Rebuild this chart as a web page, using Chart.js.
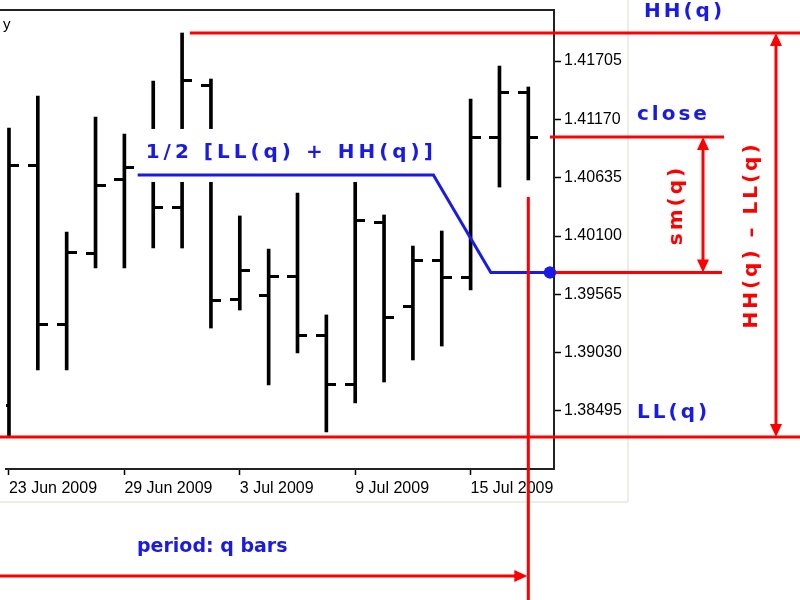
<!DOCTYPE html>
<html>
<head>
<meta charset="utf-8">
<script src="https://cdn.jsdelivr.net/npm/chart.js@4.4.0/dist/chart.umd.min.js"></script>
<style>
  html, body { margin: 0; padding: 0; background: #fff; }
  #wrap { width: 800px; height: 600px; position: relative; }
</style>
</head>
<body>
<div id="wrap"><canvas id="barChart" width="800" height="600"></canvas></div>
<script>
// daily bars, 23 Jun - 17 Jul 2009
const dates = ['23 Jun 2009', '24 Jun 2009', '25 Jun 2009', '26 Jun 2009', '29 Jun 2009', '30 Jun 2009',
    '1 Jul 2009', '2 Jul 2009', '3 Jul 2009', '6 Jul 2009', '7 Jul 2009', '8 Jul 2009', '9 Jul 2009',
    '10 Jul 2009', '13 Jul 2009', '14 Jul 2009', '15 Jul 2009', '16 Jul 2009', '17 Jul 2009'];
const opens = [1.38550, 1.40751, 1.39284, 1.39944, 1.40614, 1.40700, 1.40357, 1.41476, 1.39522, 1.39550,
    1.39733, 1.39183, 1.38734, 1.40228, 1.39458, 1.39871, 1.39715, 1.41008, 1.41412];
const highs = [1.41091, 1.41384, 1.40137, 1.41191, 1.41036, 1.41522, 1.41962, 1.41540, 1.40284, 1.39981,
    1.40494, 1.39376, 1.40720, 1.40293, 1.40008, 1.40146, 1.41357, 1.41659, 1.41467];
const lows = [1.38257, 1.38871, 1.38871, 1.39807, 1.39807, 1.39990, 1.39990, 1.39256, 1.39421, 1.38734,
    1.39027, 1.38303, 1.38569, 1.38761, 1.38963, 1.39091, 1.39605, 1.40549, 1.40614];
const closes = [1.40751, 1.39284, 1.39953, 1.40559, 1.40724, 1.40357, 1.41522, 1.39504, 1.39788, 1.39733,
    1.39183, 1.38734, 1.40238, 1.39348, 1.39871, 1.39724, 1.41008, 1.41412, 1.41008];

const dateTicks = [0, 4, 8, 12, 16];
const priceTicks = [1.38495, 1.39030, 1.39565, 1.40100, 1.40635, 1.41170, 1.41705];

// midline 1/2 [LL + HH] (bar index, price)
const midX = [4.46, 14.71, 16.70, 18.75];
const midY = [1.40660, 1.40660, 1.39765, 1.39765];

const hhLevel = Math.max(...highs);
const llLevel = Math.min(...lows);
const closeLevel = closes[closes.length - 1];
const hhStart = 6.27;
const lastBar = closes.length - 1;

const RED = '#ff0000';
const BLUE = '#1a1ae6';

// little horizontal tick used for open (left) and close (right)
function tickImage(side) {
    const c = document.createElement('canvas');
    c.width = 20; c.height = 3;
    const g = c.getContext('2d');
    g.fillStyle = '#000';
    g.fillRect(side === 'left' ? 0 : 10, 0, 10, 3);
    return c;
}

function arrowHead(ctx, x, y, dx, dy) {
    const len = 13, half = 6;
    ctx.beginPath();
    ctx.moveTo(x, y);
    ctx.lineTo(x - dx * len - dy * half, y - dy * len + dx * half);
    ctx.lineTo(x - dx * len + dy * half, y - dy * len - dx * half);
    ctx.closePath();
    ctx.fill();
}

function hLine(ctx, x0, x1, y) {
    ctx.beginPath(); ctx.moveTo(x0, y); ctx.lineTo(x1, y); ctx.stroke();
}
function vLine(ctx, x, y0, y1) {
    ctx.beginPath(); ctx.moveTo(x, y0); ctx.lineTo(x, y1); ctx.stroke();
}

const annotations = {
    id: 'annotations',
    beforeDatasetDraw(chart, args) {
        if (args.meta.type !== 'line') return;
        // white box behind the formula label
        const { x, y } = chart.scales;
        const ctx = chart.ctx;
        const x0 = x.getPixelForValue(midX[0]);
        const x1 = x.getPixelForValue(midX[1]);
        const yl = y.getPixelForValue(midY[0]);
        ctx.save();
        ctx.fillStyle = '#fff';
        ctx.fillRect(x0, yl - 46, x1 - x0, 53);
        ctx.restore();
    },
    afterDraw(chart) {
        const { x, y } = chart.scales;
        const area = chart.chartArea;
        const ctx = chart.ctx;
        ctx.save();

        // top frame of the price window
        ctx.strokeStyle = '#222';
        ctx.lineWidth = 2;
        hLine(ctx, 0, area.right + 1, area.top);

        // outer panel edge
        ctx.strokeStyle = '#e8e8de';
        ctx.lineWidth = 1.5;
        vLine(ctx, 628, 0, 502);
        hLine(ctx, 0, 628, 502);

        ctx.fillStyle = '#000';
        ctx.font = '15px "Liberation Sans"';
        ctx.textBaseline = 'alphabetic';
        ctx.fillText('y', 3, 29);

        // red levels
        const yHH = y.getPixelForValue(hhLevel);
        const yLL = y.getPixelForValue(llLevel);
        const yClose = y.getPixelForValue(closeLevel);
        const yMid = y.getPixelForValue(midY[3]);
        const xLast = x.getPixelForValue(lastBar);
        const xDot = x.getPixelForValue(midX[3]);

        ctx.strokeStyle = RED;
        ctx.fillStyle = RED;
        ctx.lineWidth = 3;
        hLine(ctx, x.getPixelForValue(hhStart), 800, yHH);
        hLine(ctx, 0, 800, yLL);
        hLine(ctx, 550, 724, yClose);
        hLine(ctx, xDot + 5, 722, yMid);
        vLine(ctx, xLast, 197, 600);

        // period arrow
        hLine(ctx, 0, xLast - 10, 576);
        arrowHead(ctx, xLast - 1, 576, 1, 0);

        // sm(q) arrow
        vLine(ctx, 703, yClose + 10, yMid - 10);
        arrowHead(ctx, 703, yClose, 0, -1);
        arrowHead(ctx, 703, yMid, 0, 1);

        // HH - LL arrow
        vLine(ctx, 776, yHH + 10, yLL - 10);
        arrowHead(ctx, 776, yHH, 0, -1);
        arrowHead(ctx, 776, yLL, 0, 1);

        // labels
        ctx.font = 'bold 20px "DejaVu Sans"';
        ctx.letterSpacing = '3px';
        ctx.textBaseline = 'middle';
        ctx.textAlign = 'left';
        ctx.fillStyle = BLUE;
        ctx.fillText('HH(q)', 644, 12);
        ctx.fillText('close', 637, 115);
        ctx.fillText('LL(q)', 637, 413);
        ctx.letterSpacing = '4px';
        ctx.fillText('1/2 [LL(q) + HH(q)]', x.getPixelForValue(midX[0]) + 8, y.getPixelForValue(midY[0]) - 22);
        ctx.letterSpacing = '3px';

        ctx.fillStyle = RED;
        ctx.textAlign = 'center';
        [['sm(q)', 677, 205], ['HH(q) – LL(q)', 752, 235]].forEach(([t, cx, cy]) => {
            ctx.save();
            ctx.translate(cx, cy);
            ctx.rotate(-Math.PI / 2);
            ctx.fillText(t, 0, 0);
            ctx.restore();
        });

        ctx.letterSpacing = '0px';
        ctx.textAlign = 'left';
        ctx.fillStyle = BLUE;
        ctx.font = 'bold 19px "DejaVu Sans"';
        ctx.fillText('period: q bars', 137, 547);

        // end point of the midline sits on top of the red level
        ctx.beginPath();
        ctx.arc(xDot, yMid, 6, 0, Math.PI * 2);
        ctx.fill();

        ctx.restore();
    }
};

const tickFont = { family: 'Liberation Sans', size: 16 };

new Chart(document.getElementById('barChart'), {
    type: 'bar',
    data: {
        datasets: [
            {
                type: 'line',
                data: midX.map((v, i) => ({ x: v, y: midY[i] })),
                borderColor: BLUE,
                borderWidth: 3,
                pointRadius: [0, 0, 0, 6],
                pointBackgroundColor: BLUE,
                pointBorderWidth: 0,
                tension: 0,
                clip: false,
                order: 0
            },
            {
                type: 'bar',
                data: highs.map((h, i) => ({ x: i, y: [lows[i], h] })),
                backgroundColor: '#000',
                barThickness: 3,
                order: 1
            },
            {
                type: 'scatter',
                data: opens.map((v, i) => ({ x: i, y: v })),
                pointStyle: tickImage('left'),
                pointRadius: 5,
                order: 1
            },
            {
                type: 'scatter',
                data: closes.map((v, i) => ({ x: i, y: v })),
                pointStyle: tickImage('right'),
                pointRadius: 5,
                order: 1
            }
        ]
    },
    options: {
        responsive: false,
        animation: false,
        events: [],
        layout: { padding: { top: 10, left: 0, right: 0, bottom: 0 } },
        plugins: { legend: { display: false }, tooltip: { enabled: false } },
        scales: {
            x: {
                type: 'linear',
                position: 'bottom',
                offset: false,
                min: -0.103,
                max: 18.89,
                afterBuildTicks: s => { s.ticks = dateTicks.map(v => ({ value: v })); },
                afterFit: s => { s.height = 131; s.paddingLeft = 0; s.paddingRight = 0; },
                ticks: {
                    callback: v => dates[v],
                    align: 'start',
                    autoSkip: false,
                    maxRotation: 0,
                    padding: 4,
                    color: '#000',
                    font: tickFont
                },
                grid: { offset: false, drawOnChartArea: false, tickLength: 6, color: '#000', tickWidth: 1.5 },
                border: { color: '#222', width: 2 }
            },
            y: {
                type: 'linear',
                position: 'right',
                min: 1.37963,
                max: 1.42173,
                afterBuildTicks: s => { s.ticks = priceTicks.map(v => ({ value: v })); },
                afterFit: s => { s.width = 246; s.paddingTop = 0; s.paddingBottom = 0; },
                ticks: {
                    callback: v => v.toFixed(5),
                    padding: 3,
                    color: '#000',
                    font: tickFont
                },
                grid: { drawOnChartArea: false, tickLength: 7, color: '#000', tickWidth: 1.5 },
                border: { color: '#222', width: 2 }
            }
        }
    },
    plugins: [annotations]
});
</script>
</body>
</html>
